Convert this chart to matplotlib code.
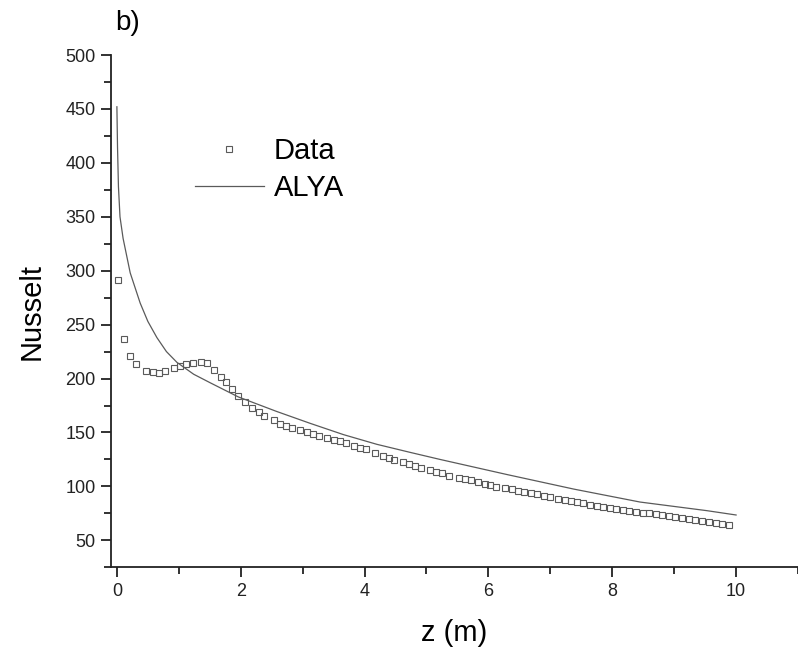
import matplotlib
matplotlib.use("Agg")
import matplotlib.pyplot as plt
from matplotlib.ticker import MultipleLocator

plt.rcParams['font.family'] = ['Liberation Sans', 'DejaVu Sans']

# Measured data (squares)
data_z = [0.01, 0.11, 0.215, 0.31, 0.47, 0.58, 0.68, 0.78, 0.915, 1.02, 1.12, 1.23,
          1.36, 1.46, 1.57, 1.68, 1.77, 1.86, 1.96, 2.07, 2.19, 2.29, 2.38, 2.54,
          2.64, 2.73, 2.83, 2.96, 3.07, 3.16, 3.26, 3.40, 3.50, 3.60, 3.70, 3.83,
          3.93, 4.03, 4.17, 4.30, 4.39, 4.48, 4.62, 4.72, 4.82, 4.91, 5.06, 5.16,
          5.25, 5.36, 5.52, 5.63, 5.72, 5.83, 5.94, 6.03, 6.13, 6.27, 6.38, 6.47,
          6.58, 6.68, 6.79, 6.89, 7.00, 7.12, 7.23, 7.33, 7.43, 7.53, 7.64, 7.75,
          7.85, 7.96, 8.06, 8.17, 8.27, 8.38, 8.49, 8.59, 8.70, 8.81, 8.92, 9.02,
          9.13, 9.24, 9.34, 9.45, 9.56, 9.67, 9.77, 9.88]
data_nu = [291.0, 236.7, 220.6, 213.5, 207.0, 205.8, 205.4, 206.7, 210.0, 212.0, 213.2, 214.4,
           215.0, 214.1, 208.3, 201.2, 196.5, 190.3, 184.1, 178.0, 173.0, 169.3, 165.6, 161.3,
           158.2, 156.0, 154.4, 152.3, 150.7, 148.9, 147.0, 145.2, 143.3, 141.8, 140.0, 137.5,
           135.9, 134.4, 130.7, 128.2, 126.1, 124.5, 122.5, 121.0, 119.0, 117.4, 115.2, 113.6,
           112.1, 109.9, 108.0, 106.9, 106.0, 104.1, 102.2, 101.0, 99.7, 98.8, 97.3, 96.0,
           94.8, 93.6, 92.7, 91.4, 89.9, 88.6, 87.4, 86.5, 85.3, 84.3, 83.0, 81.8,
           81.2, 80.3, 79.3, 78.4, 77.5, 76.6, 75.6, 75.1, 74.2, 73.2, 72.3, 71.4,
           70.4, 69.5, 68.9, 68.0, 67.1, 66.4, 65.4, 64.5]

# ALYA simulation (line)
alya_z = [0.0, 0.01, 0.025, 0.05, 0.10, 0.215, 0.376, 0.50, 0.646, 0.80, 0.97,
          1.24, 1.51, 1.96, 2.58, 3.12, 3.66, 4.20, 4.74, 5.22, 6.30, 7.38, 8.45, 9.53, 10.0]
alya_nu = [452.0, 415.0, 378.0, 350.0, 330.0, 298.0, 270.0, 253.0, 238.0, 225.0, 215.0,
           204.0, 196.0, 183.0, 169.5, 158.5, 148.0, 139.0, 131.5, 125.0, 111.0, 97.5, 85.5, 77.5, 73.5]

fig = plt.figure(figsize=(7.98, 6.56), dpi=100)
ax = fig.add_axes([110.7/798, 1-567.3/656, 1-110.7/798, (567.3-55)/656])

ax.plot(data_z, data_nu, linestyle='none', marker='s', markersize=5.0,
        markerfacecolor='none', markeredgecolor='#5a5a5a', markeredgewidth=0.8, label='Data')
ax.plot(alya_z, alya_nu, color='#5a5a5a', linewidth=0.9, label='ALYA')

ax.set_xlim(-0.1, 11)
ax.set_ylim(25, 500)
ax.xaxis.set_major_locator(MultipleLocator(2))
ax.xaxis.set_minor_locator(MultipleLocator(1))
ax.yaxis.set_major_locator(MultipleLocator(50))
ax.yaxis.set_minor_locator(MultipleLocator(25))
ax.set_yticks([50, 100, 150, 200, 250, 300, 350, 400, 450, 500])

for s in ['top', 'right']:
    ax.spines[s].set_visible(False)
for s in ['left', 'bottom']:
    ax.spines[s].set_linewidth(1.3)
    ax.spines[s].set_color('#222222')

ax.tick_params(axis='both', which='major', direction='out', length=7, width=1.3,
               labelsize=13, colors='#222222', pad=4)
ax.tick_params(axis='both', which='minor', direction='out', length=4.8, width=1.3,
               colors='#222222')

ax.set_xlabel('z (m)', fontsize=21, labelpad=14)
ax.set_ylabel('Nusselt', fontsize=21, labelpad=14)

leg = ax.legend(loc='upper left', bbox_to_anchor=(195/798, 1-137/656),
                bbox_transform=fig.transFigure, frameon=False, fontsize=21,
                handlelength=2.35, handletextpad=0.35, borderpad=0, borderaxespad=0,
                labelspacing=0.3, numpoints=1)

fig.text(115/798, 1-30/656, 'b)', fontsize=20, va='baseline', ha='left')

fig.savefig('out.png', dpi=100)
